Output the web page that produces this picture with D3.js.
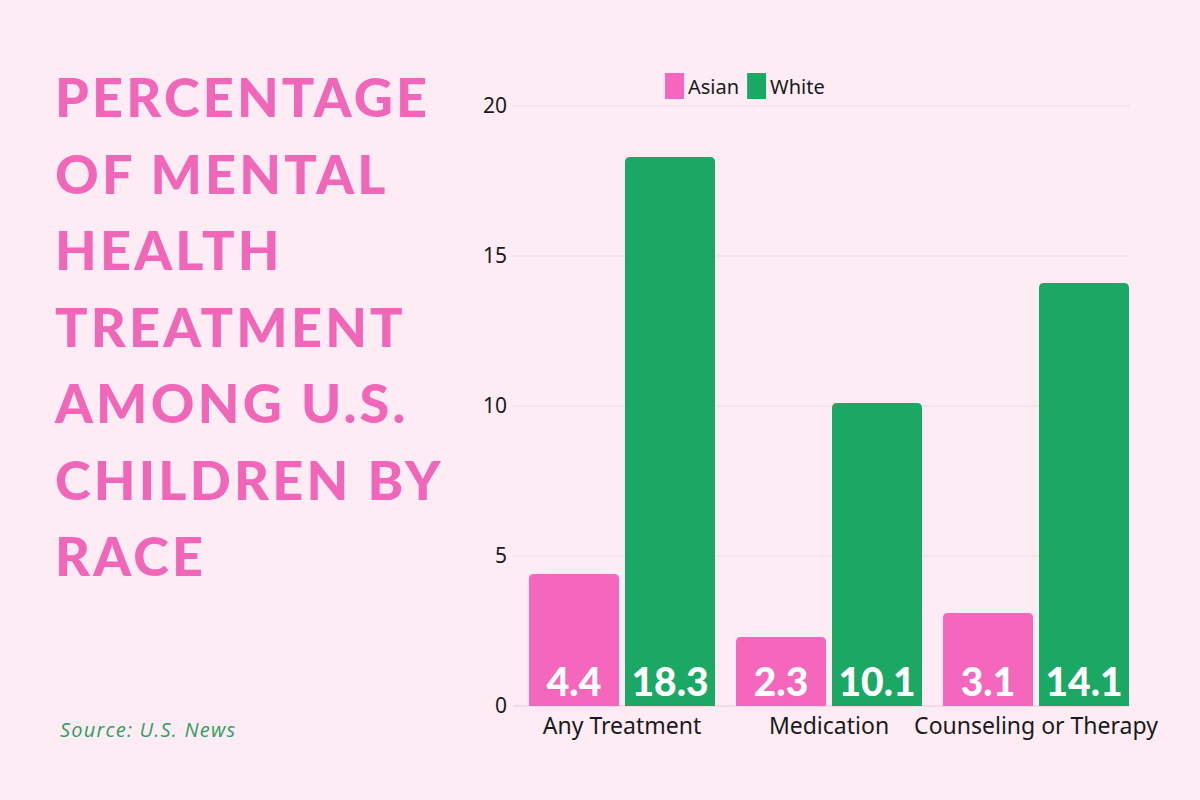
<!DOCTYPE html>
<html><head><meta charset="utf-8">
<script src="https://cdn.jsdelivr.net/npm/d3@7"></script>
<style>
html,body{margin:0;padding:0;background:#fdecf3;}
svg{display:block;}
</style></head>
<body>
<svg id="chart" width="1200" height="800"></svg>
<script>
const categories = ["Any Treatment", "Medication", "Counseling or Therapy"];
const seriesNames = ["Asian", "White"];
const asianValues = [4.4, 2.3, 3.1];
const whiteValues = [18.3, 10.1, 14.1];
const yTicks = [0, 5, 10, 15, 20];
const titleLines = ["PERCENTAGE", "OF MENTAL", "HEALTH", "TREATMENT", "AMONG U.S.", "CHILDREN BY", "RACE"];
const sourceText = "Source: U.S. News";

const colors = {Asian: "#f467bd", White: "#1ba864"};
const svg = d3.select("#chart");
svg.append("rect").attr("width",1200).attr("height",800).attr("fill","#fdecf3");

// Title
const titleG = svg.append("g");
titleLines.forEach((t,i)=>{
  titleG.append("text").attr("x",55).attr("y",117 + i*76.5)
    .attr("fill","#f066b8").attr("font-family","Lato, 'Open Sans', sans-serif")
    .attr("font-weight",900).attr("font-size",54).attr("letter-spacing",3.2).text(t);
});

svg.append("text").attr("x",60).attr("y",737).attr("fill","#2e9e62")
  .attr("font-family","'Open Sans', sans-serif").attr("font-style","italic")
  .attr("font-size",20).attr("letter-spacing",1.2).text(sourceText);

// Scales
const y = d3.scaleLinear().domain([0,20]).range([706,106]);
const x0 = d3.scaleBand().domain(categories).range([529,1129]).paddingInner(21/207).paddingOuter(0);
const x1 = d3.scaleBand().domain(seriesNames).range([0, x0.bandwidth()]).paddingInner(6/96).paddingOuter(0);

// Grid
svg.append("g").selectAll("line").data(yTicks).join("line")
  .attr("x1",513).attr("x2",1130).attr("y1",d=>y(d)).attr("y2",d=>y(d))
  .attr("stroke",d=>d===0?"#e2cdd6":"#eddbe3").attr("stroke-width",1);

// Y axis labels
const yAxis = d3.axisLeft(y).tickValues(yTicks).tickSize(0).tickPadding(0);
const yg = svg.append("g").attr("transform","translate(507,0)").call(yAxis);
yg.select(".domain").remove();
yg.selectAll("text").attr("font-family","'Noto Sans', sans-serif").attr("font-size",21).attr("fill","#1a1a1a");

// Bars
const data = categories.map((c,i)=>({cat:c, vals:[{s:"Asian",v:asianValues[i]},{s:"White",v:whiteValues[i]}]}));
const r = 5;
function barPath(x0p, w, yTop, yBot){
  return `M${x0p},${yBot}V${yTop+r}Q${x0p},${yTop} ${x0p+r},${yTop}H${x0p+w-r}Q${x0p+w},${yTop} ${x0p+w},${yTop+r}V${yBot}Z`;
}
const groups = svg.append("g").selectAll("g").data(data).join("g")
  .attr("transform",d=>`translate(${x0(d.cat)},0)`);
groups.selectAll("path").data(d=>d.vals).join("path")
  .attr("d",d=>barPath(x1(d.s), x1.bandwidth(), y(d.v), y(0)))
  .attr("fill",d=>colors[d.s]);
groups.selectAll("text.val").data(d=>d.vals).join("text").attr("class","val")
  .attr("x",d=>x1(d.s)+x1.bandwidth()/2).attr("y",696)
  .attr("text-anchor","middle").attr("fill","#ffffff")
  .attr("font-family","Lato, 'Open Sans', sans-serif").attr("font-weight",900)
  .attr("font-size",39).text(d=>d.v.toFixed(1));

// X axis labels
const xAxis = d3.axisBottom(x0).tickSize(0).tickPadding(0);
const xg = svg.append("g").attr("transform","translate(0,734)").call(xAxis);
xg.select(".domain").remove();
xg.selectAll("text").attr("font-family","'Noto Sans', sans-serif").attr("font-size",23).attr("fill","#1a1a1a").attr("dy","0");

// Legend
const legend = svg.append("g");
let lx = 665;
seriesNames.forEach((s,i)=>{
  legend.append("rect").attr("x",lx).attr("y",73).attr("width",19).attr("height",26).attr("fill",colors[s]);
  const t = legend.append("text").attr("x",lx+23).attr("y",94).attr("font-family","'Noto Sans', sans-serif")
    .attr("font-size",20).attr("fill","#1a1a1a").text(s);
  lx += 23 + t.node().getComputedTextLength() + 8;
});
</script>
</body></html>
